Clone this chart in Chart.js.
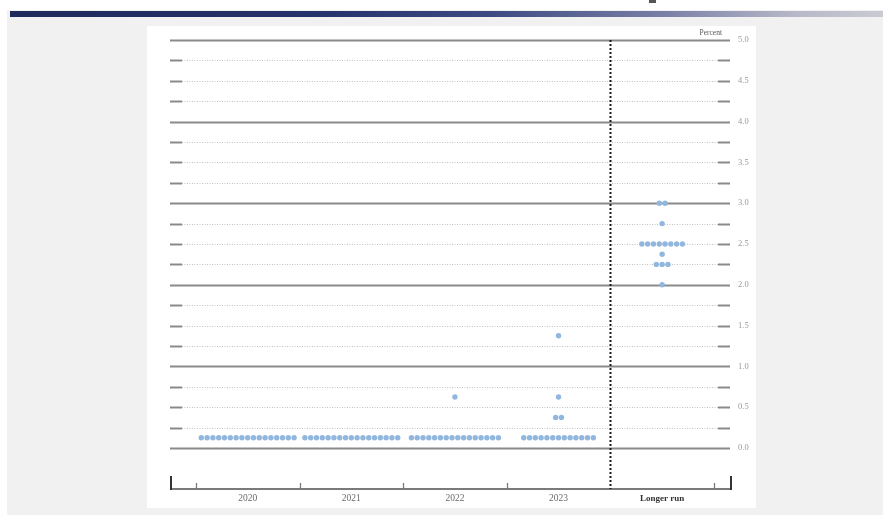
<!DOCTYPE html>
<html>
<head>
<meta charset="utf-8">
<script src="https://cdn.jsdelivr.net/npm/chart.js@4"></script>
<style>
  html, body { margin: 0; padding: 0; background: #ffffff; width: 883px; height: 515px; overflow: hidden; }
  #bg { position: absolute; left: 7px; top: 10px; width: 876px; height: 505px; background: #f1f1f1; }
  #bar { position: absolute; left: 10px; top: 11px; width: 873px; height: 6px;
         background: linear-gradient(to right, #1f2a5c 0%, #26326a 35%, #3d4a82 55%, #7a80a6 75%, #b7b9c9 90%, #c9cad2 100%); }
  #icon { position: absolute; left: 649px; top: 0px; width: 7px; height: 3px; background: #555; }
  #panel { position: absolute; left: 147px; top: 26px; width: 609px; height: 482px; background: #ffffff; }
  #c { position: absolute; left: 0; top: 0; }
</style>
</head>
<body>
<div id="bg"></div>
<div id="bar"></div>
<div id="icon"></div>
<div id="panel"></div>
<canvas id="c" width="883" height="515"></canvas>
<script>
// ---- data ----
const categories = ['2020', '2021', '2022', '2023', 'Longer run'];
// [rate, number of participants] for each column
const dots2020 = [[0.125, 17]];
const dots2021 = [[0.125, 17]];
const dots2022 = [[0.125, 16], [0.625, 1]];
const dots2023 = [[0.125, 13], [0.375, 2], [0.625, 1], [1.375, 1]];
const dotsLongerRun = [[2.0, 1], [2.25, 3], [2.375, 1], [2.5, 8], [2.75, 1], [3.0, 2]];
const yTickValues = [0.0, 0.5, 1.0, 1.5, 2.0, 2.5, 3.0, 3.5, 4.0, 4.5, 5.0];

const columns = [dots2020, dots2021, dots2022, dots2023, dotsLongerRun];
const DOT_STEP = 0.056; // horizontal spacing of dots in category units

const points = [];
columns.forEach((col, ci) => {
  const center = ci + 0.5;
  col.forEach(([rate, n]) => {
    for (let i = 0; i < n; i++) {
      points.push({ x: center + (i - (n - 1) / 2) * DOT_STEP, y: rate });
    }
  });
});

const serif = '"Liberation Serif", "DejaVu Serif", serif';

const decor = {
  id: 'decor',
  beforeDatasetsDraw(chart) {
    const { ctx, chartArea: a, scales: { x, y } } = chart;
    ctx.save();
    // horizontal grid every 0.25
    for (let k = 0; k <= 20; k++) {
      const v = k / 4;
      const py = Math.round(y.getPixelForValue(v)) + 0.5;
      if (k % 4 === 0) {
        ctx.strokeStyle = '#8a8a8a';
        ctx.lineWidth = 2;
        ctx.setLineDash([]);
        ctx.beginPath(); ctx.moveTo(a.left, py); ctx.lineTo(a.right, py); ctx.stroke();
      } else {
        ctx.strokeStyle = '#c2c2c2';
        ctx.lineWidth = 1;
        ctx.setLineDash([1, 1.5]);
        ctx.beginPath(); ctx.moveTo(a.left + 12, py); ctx.lineTo(a.right - 12, py); ctx.stroke();
        ctx.setLineDash([]);
        ctx.strokeStyle = '#8a8a8a';
        ctx.lineWidth = 2;
        ctx.beginPath(); ctx.moveTo(a.left, py); ctx.lineTo(a.left + 12, py); ctx.stroke();
        ctx.beginPath(); ctx.moveTo(a.right - 12, py); ctx.lineTo(a.right, py); ctx.stroke();
      }
    }
    // bottom axis
    const by = a.bottom - 1;
    ctx.setLineDash([]);
    ctx.strokeStyle = '#7a7a7a';
    ctx.lineWidth = 2;
    ctx.beginPath(); ctx.moveTo(a.left, by); ctx.lineTo(a.right + 1, by); ctx.stroke();
    ctx.lineWidth = 1.3;
    [0, 1, 2, 3, 5].forEach(v => {
      const px = Math.round(x.getPixelForValue(v)) + 0.5;
      ctx.beginPath(); ctx.moveTo(px, by); ctx.lineTo(px, by - 6); ctx.stroke();
    });
    ctx.strokeStyle = '#333';
    ctx.lineWidth = 2;
    [a.left + 1, a.right + 1].forEach(px => {
      ctx.beginPath(); ctx.moveTo(px, by + 1); ctx.lineTo(px, by - 13); ctx.stroke();
    });
    // vertical dashed separator
    const sx = Math.round(x.getPixelForValue(4)) + 0.5;
    ctx.strokeStyle = '#1a1a1a';
    ctx.lineWidth = 2;
    ctx.setLineDash([2, 2]);
    ctx.beginPath(); ctx.moveTo(sx, a.top); ctx.lineTo(sx, by); ctx.stroke();
    ctx.setLineDash([]);
    // "Percent"
    ctx.fillStyle = '#555';
    ctx.font = '7.5px ' + serif;
    ctx.textAlign = 'right';
    ctx.textBaseline = 'middle';
    ctx.fillText('Percent', a.right - 8, a.top - 7);
    ctx.restore();
  }
};

new Chart(document.getElementById('c'), {
  type: 'scatter',
  data: {
    datasets: [{
      data: points,
      pointRadius: 2.7,
      pointHoverRadius: 2.7,
      pointBackgroundColor: '#92b7df',
      pointBorderWidth: 0,
      showLine: false
    }]
  },
  options: {
    responsive: false,
    animation: false,
    events: [],
    layout: { padding: { left: 170, right: 113, top: 40, bottom: 0 } },
    plugins: { legend: { display: false }, tooltip: { enabled: false } },
    scales: {
      x: {
        type: 'linear',
        min: -0.25,
        max: 5.155,
        grid: { display: false, drawTicks: false },
        border: { display: false },
        afterBuildTicks: s => { s.ticks = categories.map((c, i) => ({ value: i + 0.5 })); },
        afterFit: s => { s.height = 25; },
        ticks: {
          autoSkip: false,
          maxRotation: 0,
          padding: 3,
          callback: (v, i) => categories[i],
          color: c => (c.index === 4 ? '#333' : '#6a6a6a'),
          font: c => (c.index === 4 ? { family: serif, size: 9, weight: 'bold' } : { family: serif, size: 9.5 })
        }
      },
      y: {
        position: 'right',
        min: -0.515,
        max: 5.0,
        grid: { display: false, drawTicks: false },
        border: { display: false },
        afterBuildTicks: s => { s.ticks = yTickValues.map(v => ({ value: v })); },
        afterFit: s => { s.width = 40; },
        ticks: {
          padding: 8,
          color: '#999',
          font: { family: serif, size: 8.5 },
          callback: v => Number(v).toFixed(1)
        }
      }
    }
  },
  plugins: [decor]
});
</script>
</body>
</html>
